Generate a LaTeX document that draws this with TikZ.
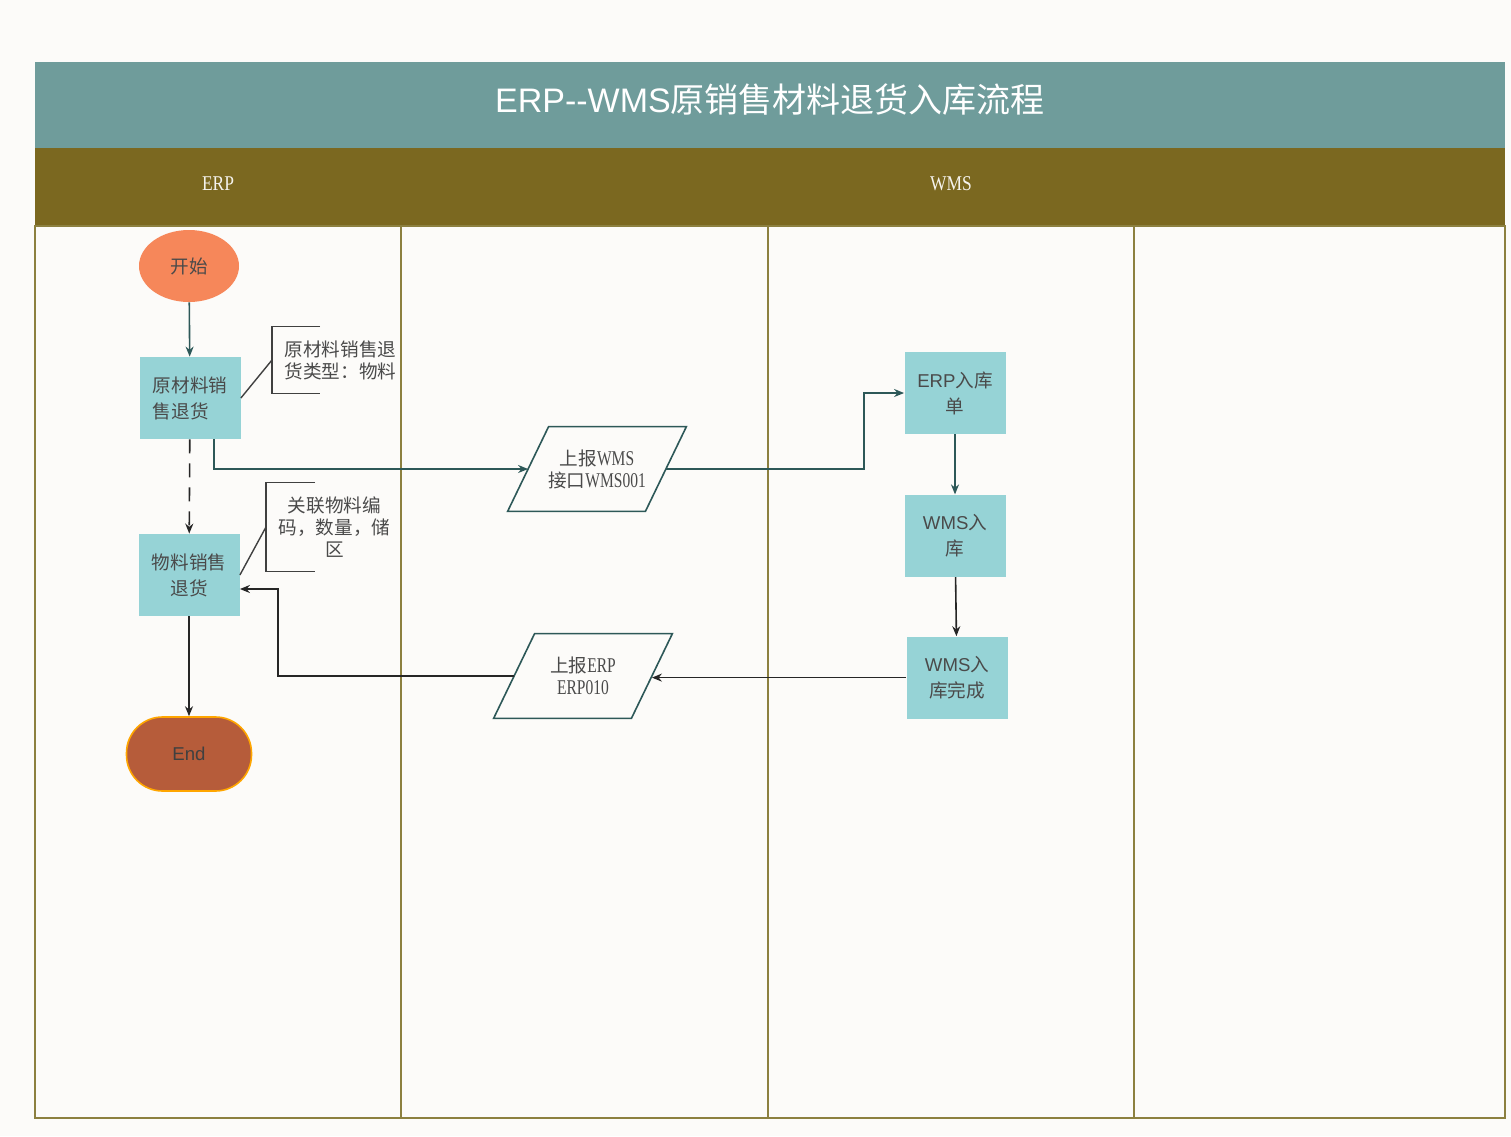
\documentclass[tikz,border=0pt]{standalone}
\usepackage{fontspec}
\setmainfont{Noto Sans CJK SC}
\newfontfamily\arialfont{Liberation Sans}
\newfontfamily\simfont[FakeStretch=0.83]{Liberation Serif}
\newfontfamily\simnarrow[FakeStretch=0.74]{Liberation Serif}
\newcommand\lat[1]{{\simnarrow\fontsize{10.5}{11}\selectfont #1}}
\usetikzlibrary{arrows.meta,positioning,shapes.geometric}
\definecolor{bgcol}{HTML}{FCFBF9}
\definecolor{titlecol}{HTML}{6F9C9B}
\definecolor{lanecol}{HTML}{7B6820}
\definecolor{framecol}{HTML}{8C8040}
\definecolor{boxcol}{HTML}{96D3D6}
\definecolor{startcol}{HTML}{F6875A}
\definecolor{endcol}{HTML}{B65C3A}
\definecolor{linkcol}{HTML}{2D5858}
\definecolor{textgray}{HTML}{4A4A4A}
\tikzset{
    every node/.style={font=\fontsize{9.3}{11}\selectfont, text=textgray},
    proc/.style={fill=boxcol, minimum width=50.5pt, minimum height=41pt, align=center,
        font=\fontsize{9.3}{13}\selectfont},
    para/.style={minimum width=68.5pt, minimum height=42pt, inner sep=0pt, align=center},
    paraline/.style={draw=linkcol, line width=0.8pt, line join=miter},
    note/.style={anchor=west, text width=56pt, inner xsep=6pt, align=center},
    link/.style={draw=linkcol, line width=0.8pt, -{Stealth[length=5pt,width=4pt]}},
    link2/.style={draw=black!85, line width=0.8pt, -{Stealth[length=5pt,width=4pt]}},
    laneline/.style={draw=framecol, line width=1pt}
}
\begin{document}
\begin{tikzpicture}[x=0.5pt, y=-0.5pt]

    % background, title and lane headers
    \fill[bgcol] (0,0) rectangle (1511,1136);
    \fill[titlecol] (35,62) rectangle (1505,148);
    \fill[lanecol] (35,148) rectangle (1505,226);
    \node[text=white, font=\fontsize{17}{20}\selectfont] (title) at (770,100)
        {{\arialfont ERP--WMS}原销售材料退货入库流程};
    \node[text=white!92!lanecol, font=\simfont\fontsize{10.5}{12}\selectfont] (erp) at (218,184) {ERP};
    \node[text=white!92!lanecol, font=\simfont\fontsize{10.5}{12}\selectfont] (wms) at (951,184) {WMS};

    % lanes
    \draw[laneline] (35,226) rectangle (1505,1118);
    \foreach \x in {401,768,1134}
        \draw[laneline] (\x,226) -- (\x,1118);

    % nodes
    \node[ellipse, fill=startcol, minimum width=50pt, minimum height=36pt] (ks) at (189,266) {开始};
    \node[proc, align=left] (ym) at (190,398) {原材料销\\售退货};
    \node[proc] (xs) at (189,575) {物料销售\\退货};
    \node[rounded corners=18pt, fill=endcol, draw=orange!70!yellow, line width=0.8pt,
        minimum width=62.5pt, minimum height=37pt, text=black!75] (jx) at (189,754) {\arialfont End};

    \node[note, minimum height=33pt] (n1) at (272,360) {原材料销售退\\货类型：物料};
    \node[note, minimum height=44pt] (n2) at (266,527) {关联物料编\\码，数量，储\\区};

    \node[para] (p1) at (597,469) {上报\lat{WMS}\\接口\lat{WMS001}};
    \node[para] (p2) at (583,676) {上报\lat{ERP}\\\lat{ERP010}};

    \node[proc] (rk) at (955,393) {{\arialfont ERP}入库\\单};
    \node[proc, below=30pt of rk] (wr) {{\arialfont WMS}入\\库};
    \node[proc, below=29.5pt of wr, xshift=1pt] (wc) {{\arialfont WMS}入\\库完成};

    % slanted borders of the data nodes
    \foreach \p in {p1,p2}
        \draw[paraline] ([xshift=10.25pt]\p.north west) -- ([xshift=10.25pt]\p.north east)
            -- ([xshift=-10.25pt]\p.south east) -- ([xshift=-10.25pt]\p.south west) -- cycle;

    % note brackets
    \draw[black!75, line width=0.7pt] ([xshift=24pt]n1.north west) -- (n1.north west)
        -- (n1.south west) -- ([xshift=24pt]n1.south west);
    \draw[black!75, line width=0.7pt] ([xshift=24.5pt]n2.north west) -- (n2.north west)
        -- (n2.south west) -- ([xshift=24.5pt]n2.south west);
    \draw[black!75, line width=0.7pt] (ym.east) -- (n1.west);
    \draw[black!75, line width=0.7pt] (xs.east) -- (n2.west);

    % connectors
    \draw[link] (ks) -- (ym);
    \draw[link2, dash pattern=on 7pt off 5pt] (ym) -- (xs);
    \draw[link] ([xshift=12pt]ym.south) |- (p1);
    \draw[link] (p1) -| ([xshift=-20pt]rk.west) -- (rk);
    \draw[link] (rk) -- (wr);
    \draw[link2] (wr) -- (wc);
    \draw[link2] (wc.west) -- (p2.east |- wc.west);
    \draw[link2] (p2) -| ([xshift=19pt, yshift=-7pt]xs.east) -- ([yshift=-7pt]xs.east);
    \draw[link2] (xs) -- (jx);

\end{tikzpicture}
\end{document}
